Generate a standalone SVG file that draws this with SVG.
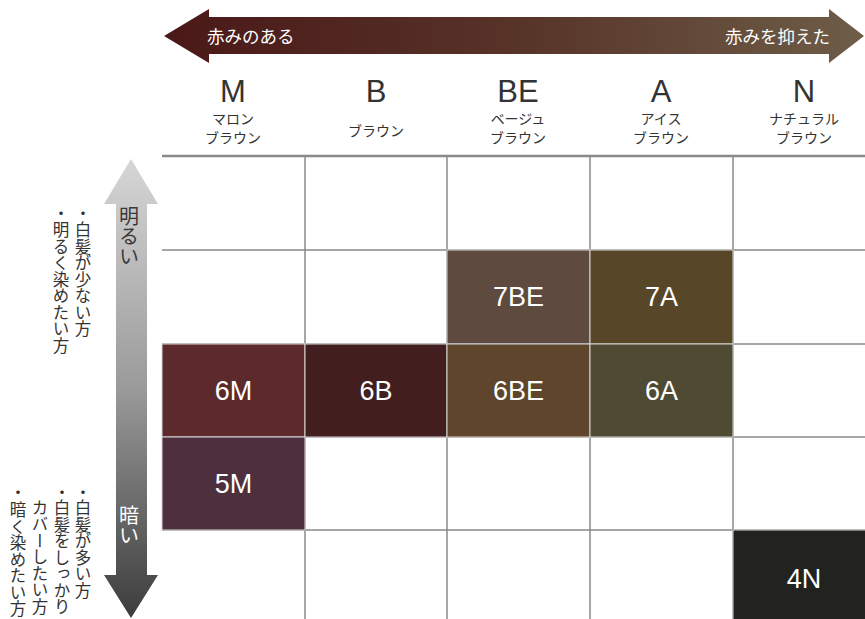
<svg xmlns="http://www.w3.org/2000/svg" width="865" height="619" viewBox="0 0 865 619">
<defs>
<linearGradient id="gh" x1="0" y1="0" x2="1" y2="0">
<stop offset="0" stop-color="#4a1818"/>
<stop offset="0.5" stop-color="#573328"/>
<stop offset="1" stop-color="#6e5d48"/>
</linearGradient>
<linearGradient id="gv" x1="0" y1="0" x2="0" y2="1">
<stop offset="0" stop-color="#d6d6d6"/>
<stop offset="0.5" stop-color="#9a9a9a"/>
<stop offset="1" stop-color="#3c3c3c"/>
</linearGradient>
<style>
.jp{font-family:"Noto Sans CJK JP","Noto Sans",sans-serif;}
.big{font-family:"Liberation Sans",Arial,sans-serif;font-size:31px;fill:#333;text-anchor:middle;}
.sub{font-family:"Noto Sans CJK JP",sans-serif;font-size:14px;fill:#333;text-anchor:middle;}
.grid{stroke:#8a8a8a;stroke-width:1.5;fill:none;}
.cell text{font-family:"Liberation Sans",Arial,sans-serif;font-size:27px;fill:#fff;text-anchor:middle;}
.cell rect{stroke:#d8d8d8;stroke-width:1;}
.vt{font-family:"Noto Sans CJK JP",sans-serif;font-size:16.5px;fill:#333;writing-mode:vertical-rl;}
</style>
</defs>
<rect width="865" height="619" fill="#fff"/>

<g id="top-arrow">
<polygon points="164,36 209,9 209,17 829,17 829,9 864,36 829,63 829,54 209,54 209,63" fill="url(#gh)"/>
<text class="jp" x="207" y="43" font-size="17.5" fill="#fff">赤みのある</text>
<text class="jp" x="830" y="43" font-size="17.5" fill="#fff" text-anchor="end">赤みを抑えた</text>
</g>

<g id="side-arrow">
<polygon points="131,159 158,204 147,204 147,575 158,575 131,618 104,575 116,575 116,204 104,204" fill="url(#gv)"/>
<text class="jp" x="129" y="206" font-size="20" fill="#3a3a3a" style="writing-mode:vertical-rl">明るい</text>
<text class="jp" x="129" y="505" font-size="20" fill="#fff" style="writing-mode:vertical-rl">暗い</text>
</g>

<g id="side-notes">
<text class="vt" x="83"><tspan y="205">・</tspan><tspan y="221">白髪が少ない方</tspan></text>
<text class="vt" x="61"><tspan y="205">・</tspan><tspan y="221">明るく染めたい方</tspan></text>
<text class="vt" x="83"><tspan y="484">・</tspan><tspan y="499">白髪が多い方</tspan></text>
<text class="vt" x="62"><tspan y="484">・</tspan><tspan y="499">白髪をしっかり</tspan></text>
<text class="vt" x="40" y="499">カバーしたい方</text>
<text class="vt" x="18"><tspan y="484">・</tspan><tspan y="501">暗く染めたい方</tspan></text>
</g>

<g id="headers">
<g id="h-M"><text class="big" x="233" y="102">M</text><text class="sub" x="233" y="124">マロン</text><text class="sub" x="233" y="143">ブラウン</text></g>
<g id="h-B"><text class="big" x="376" y="102">B</text><text class="sub" x="376" y="136">ブラウン</text></g>
<g id="h-BE"><text class="big" x="518" y="102">BE</text><text class="sub" x="518" y="124">ベージュ</text><text class="sub" x="518" y="143">ブラウン</text></g>
<g id="h-A"><text class="big" x="661" y="102">A</text><text class="sub" x="661" y="124">アイス</text><text class="sub" x="661" y="143">ブラウン</text></g>
<g id="h-N"><text class="big" x="804" y="102">N</text><text class="sub" x="804" y="124">ナチュラル</text><text class="sub" x="804" y="143">ブラウン</text></g>
</g>

<g id="grid" class="grid">
<line x1="162" y1="156" x2="865" y2="156" stroke-width="2.5"/>
<line x1="162" y1="250" x2="865" y2="250"/>
<line x1="162" y1="344" x2="865" y2="344"/>
<line x1="162" y1="437" x2="865" y2="437"/>
<line x1="162" y1="530" x2="865" y2="530"/>
<line x1="305" y1="156" x2="305" y2="619"/>
<line x1="447" y1="156" x2="447" y2="619"/>
<line x1="590" y1="156" x2="590" y2="619"/>
<line x1="733" y1="156" x2="733" y2="619"/>
</g>

<g id="c-7BE" class="cell"><rect x="447" y="250" width="143" height="94" fill="#5e4a3e"/><text x="518.5" y="306">7BE</text></g>
<g id="c-7A" class="cell"><rect x="590" y="250" width="143" height="94" fill="#574628"/><text x="661.5" y="306">7A</text></g>
<g id="c-6M" class="cell"><rect x="162" y="344" width="143" height="93" fill="#5c2a2a"/><text x="233.5" y="400">6M</text></g>
<g id="c-6B" class="cell"><rect x="305" y="344" width="142" height="93" fill="#421e1e"/><text x="376" y="400">6B</text></g>
<g id="c-6BE" class="cell"><rect x="447" y="344" width="143" height="93" fill="#5e452b"/><text x="518.5" y="400">6BE</text></g>
<g id="c-6A" class="cell"><rect x="590" y="344" width="143" height="93" fill="#4f4a33"/><text x="661.5" y="400">6A</text></g>
<g id="c-5M" class="cell"><rect x="162" y="437" width="143" height="93" fill="#4d2f3d"/><text x="233.5" y="493">5M</text></g>
<g id="c-4N" class="cell"><rect x="733" y="530" width="133" height="90" fill="#222220" stroke="none"/><text x="804" y="588">4N</text></g>
</svg>
